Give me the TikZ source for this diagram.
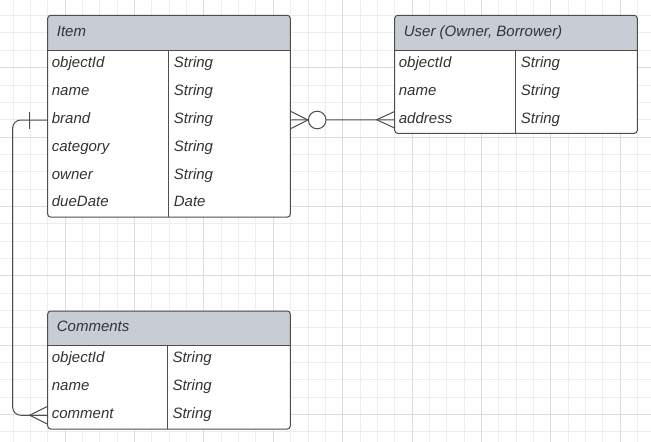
\documentclass[tikz,border=0pt]{standalone}
\usepackage{fontspec}
\setmainfont{Liberation Sans}
\usetikzlibrary{calc}

\definecolor{hdrgray}{RGB}{200,205,213}
\definecolor{linegray}{RGB}{77,77,77}
\definecolor{txtgray}{RGB}{51,51,51}
\definecolor{gridlight}{RGB}{237,237,237}
\definecolor{griddark}{RGB}{220,220,220}

\tikzset{
  minorgrid/.style={draw=gridlight, line width=1pt},
  majorgrid/.style={draw=griddark, line width=1pt},
  erline/.style={draw=linegray, line width=1pt},
  boxline/.style={draw=linegray, line width=1pt, rounded corners=3pt},
  title/.style={anchor=west, text=txtgray, font=\fontsize{15}{18}\selectfont\itshape,
    inner sep=0pt, text height=11pt, text depth=4pt},
  field/.style={anchor=north west, text=txtgray, font=\fontsize{15}{18}\selectfont\itshape,
    inner xsep=4pt, inner ysep=0pt, text width=#1, minimum height=27.8pt,
    text height=11pt, text depth=4pt, align=left},
  ftype/.style={field=#1, inner xsep=5pt}
}

\begin{document}
\begin{tikzpicture}[x=1pt,y=-1pt]
\useasboundingbox (0,0) rectangle (651,442);
\fill[white] (0,0) rectangle (651,442);
% grid
\foreach \i in {0,...,37} \draw[minorgrid] ({-4.3+17.35*\i},0) -- ({-4.3+17.35*\i},442);
\foreach \j in {0,...,25} \draw[minorgrid] (0,{-1.7+17.34*\j}) -- (651,{-1.7+17.34*\j});
\foreach \i in {0,...,9} \draw[majorgrid] ({-4.3+69.4*\i},0) -- ({-4.3+69.4*\i},442);
\foreach \j in {0,...,6} \draw[majorgrid] (0,{-1.7+69.36*\j}) -- (651,{-1.7+69.36*\j});

% Item
\begin{scope}
\clip[rounded corners=3pt] (47.7,15.3) rectangle (290.3,217.1);
\fill[white] (47.7,15.3) rectangle (290.3,217.1);
\fill[hdrgray] (47.7,15.3) rectangle (290.3,50.3);
\end{scope}
\draw[boxline] (47.7,15.3) rectangle (290.3,217.1);
\draw[erline] (47.7,50.3) -- (290.3,50.3) (168.7,50.3) -- (168.7,217.1);
\node (item) [title] at (56.7,32.8) {Item};
\node (i1) [field=113pt] at (47.7,50.3) {objectId};
\node (i2) [field=113pt] at (47.7,78.1) {name};
\node (i3) [field=113pt] at (47.7,105.9) {brand};
\node (i4) [field=113pt] at (47.7,133.7) {category};
\node (i5) [field=113pt] at (47.7,161.5) {owner};
\node (i6) [field=113pt] at (47.7,189.3) {dueDate};
\node (i1t) [ftype=111.6pt] at (168.7,50.3) {String};
\node (i2t) [ftype=111.6pt] at (168.7,78.1) {String};
\node (i3t) [ftype=111.6pt] at (168.7,105.9) {String};
\node (i4t) [ftype=111.6pt] at (168.7,133.7) {String};
\node (i5t) [ftype=111.6pt] at (168.7,161.5) {String};
\node (i6t) [ftype=111.6pt] at (168.7,189.3) {Date};

% User
\begin{scope}
\clip[rounded corners=3pt] (394.7,15.3) rectangle (637.3,133.4);
\fill[white] (394.7,15.3) rectangle (637.3,133.4);
\fill[hdrgray] (394.7,15.3) rectangle (637.3,50.3);
\end{scope}
\draw[boxline] (394.7,15.3) rectangle (637.3,133.4);
\draw[erline] (394.7,50.3) -- (637.3,50.3) (515.7,50.3) -- (515.7,133.4);
\node (user) [title] at (403.7,32.8) {User (Owner, Borrower)};
\node (u1) [field=113pt, minimum height=27.7pt] at (394.7,50.3) {objectId};
\node (u2) [field=113pt, minimum height=27.7pt] at (394.7,78.0) {name};
\node (u3) [field=113pt, minimum height=27.7pt] at (394.7,105.7) {address};
\node (u1t) [ftype=111.6pt, minimum height=27.7pt] at (515.7,50.3) {String};
\node (u2t) [ftype=111.6pt, minimum height=27.7pt] at (515.7,78.0) {String};
\node (u3t) [ftype=111.6pt, minimum height=27.7pt] at (515.7,105.7) {String};

% Comments
\begin{scope}
\clip[rounded corners=3pt] (47.7,311) rectangle (290.3,429);
\fill[white] (47.7,311) rectangle (290.3,429);
\fill[hdrgray] (47.7,311) rectangle (290.3,345.3);
\end{scope}
\draw[boxline] (47.7,311) rectangle (290.3,429);
\draw[erline] (47.7,345.3) -- (290.3,345.3) (167.3,345.3) -- (167.3,429);
\node (comments) [title] at (56.7,328.2) {Comments};
\node (c1) [field=111.6pt, minimum height=27.9pt] at (47.7,345.3) {objectId};
\node (c2) [field=111.6pt, minimum height=27.9pt] at (47.7,373.2) {name};
\node (c3) [field=111.6pt, minimum height=27.9pt] at (47.7,401.1) {comment};
\node (c1t) [ftype=113pt, minimum height=27.9pt] at (167.3,345.3) {String};
\node (c2t) [ftype=113pt, minimum height=27.9pt] at (167.3,373.2) {String};
\node (c3t) [ftype=113pt, minimum height=27.9pt] at (167.3,401.1) {String};

% Item -- User (zero or many / many)
\draw[erline] (i3t.east) -- (u3.west);
\node (zero) [circle, draw=linegray, line width=1pt, fill=white, minimum size=17.6pt, inner sep=0pt]
  at ($(i3t.east)+(26.5,0)$) {};
\draw[erline] ($(i3t.east)+(0,-8.7)$) -- (zero.west) -- ($(i3t.east)+(0,8.7)$);
\draw[erline] ($(u3.west)+(0,-8.3)$) -- ($(u3.west)+(-18,0)$) -- ($(u3.west)+(0,8.3)$);

% Item -- Comments (one / many)
\draw[erline, rounded corners=8pt] (i3.west) -- ++(-35,0) |- (c3.west);
\draw[erline] ($(i3.west)+(-18,-8.5)$) -- ++(0,17);
\draw[erline] ($(c3.west)+(0,-9)$) -- ($(c3.west)+(-18,0)$) -- ($(c3.west)+(0,9)$);
\end{tikzpicture}
\end{document}
